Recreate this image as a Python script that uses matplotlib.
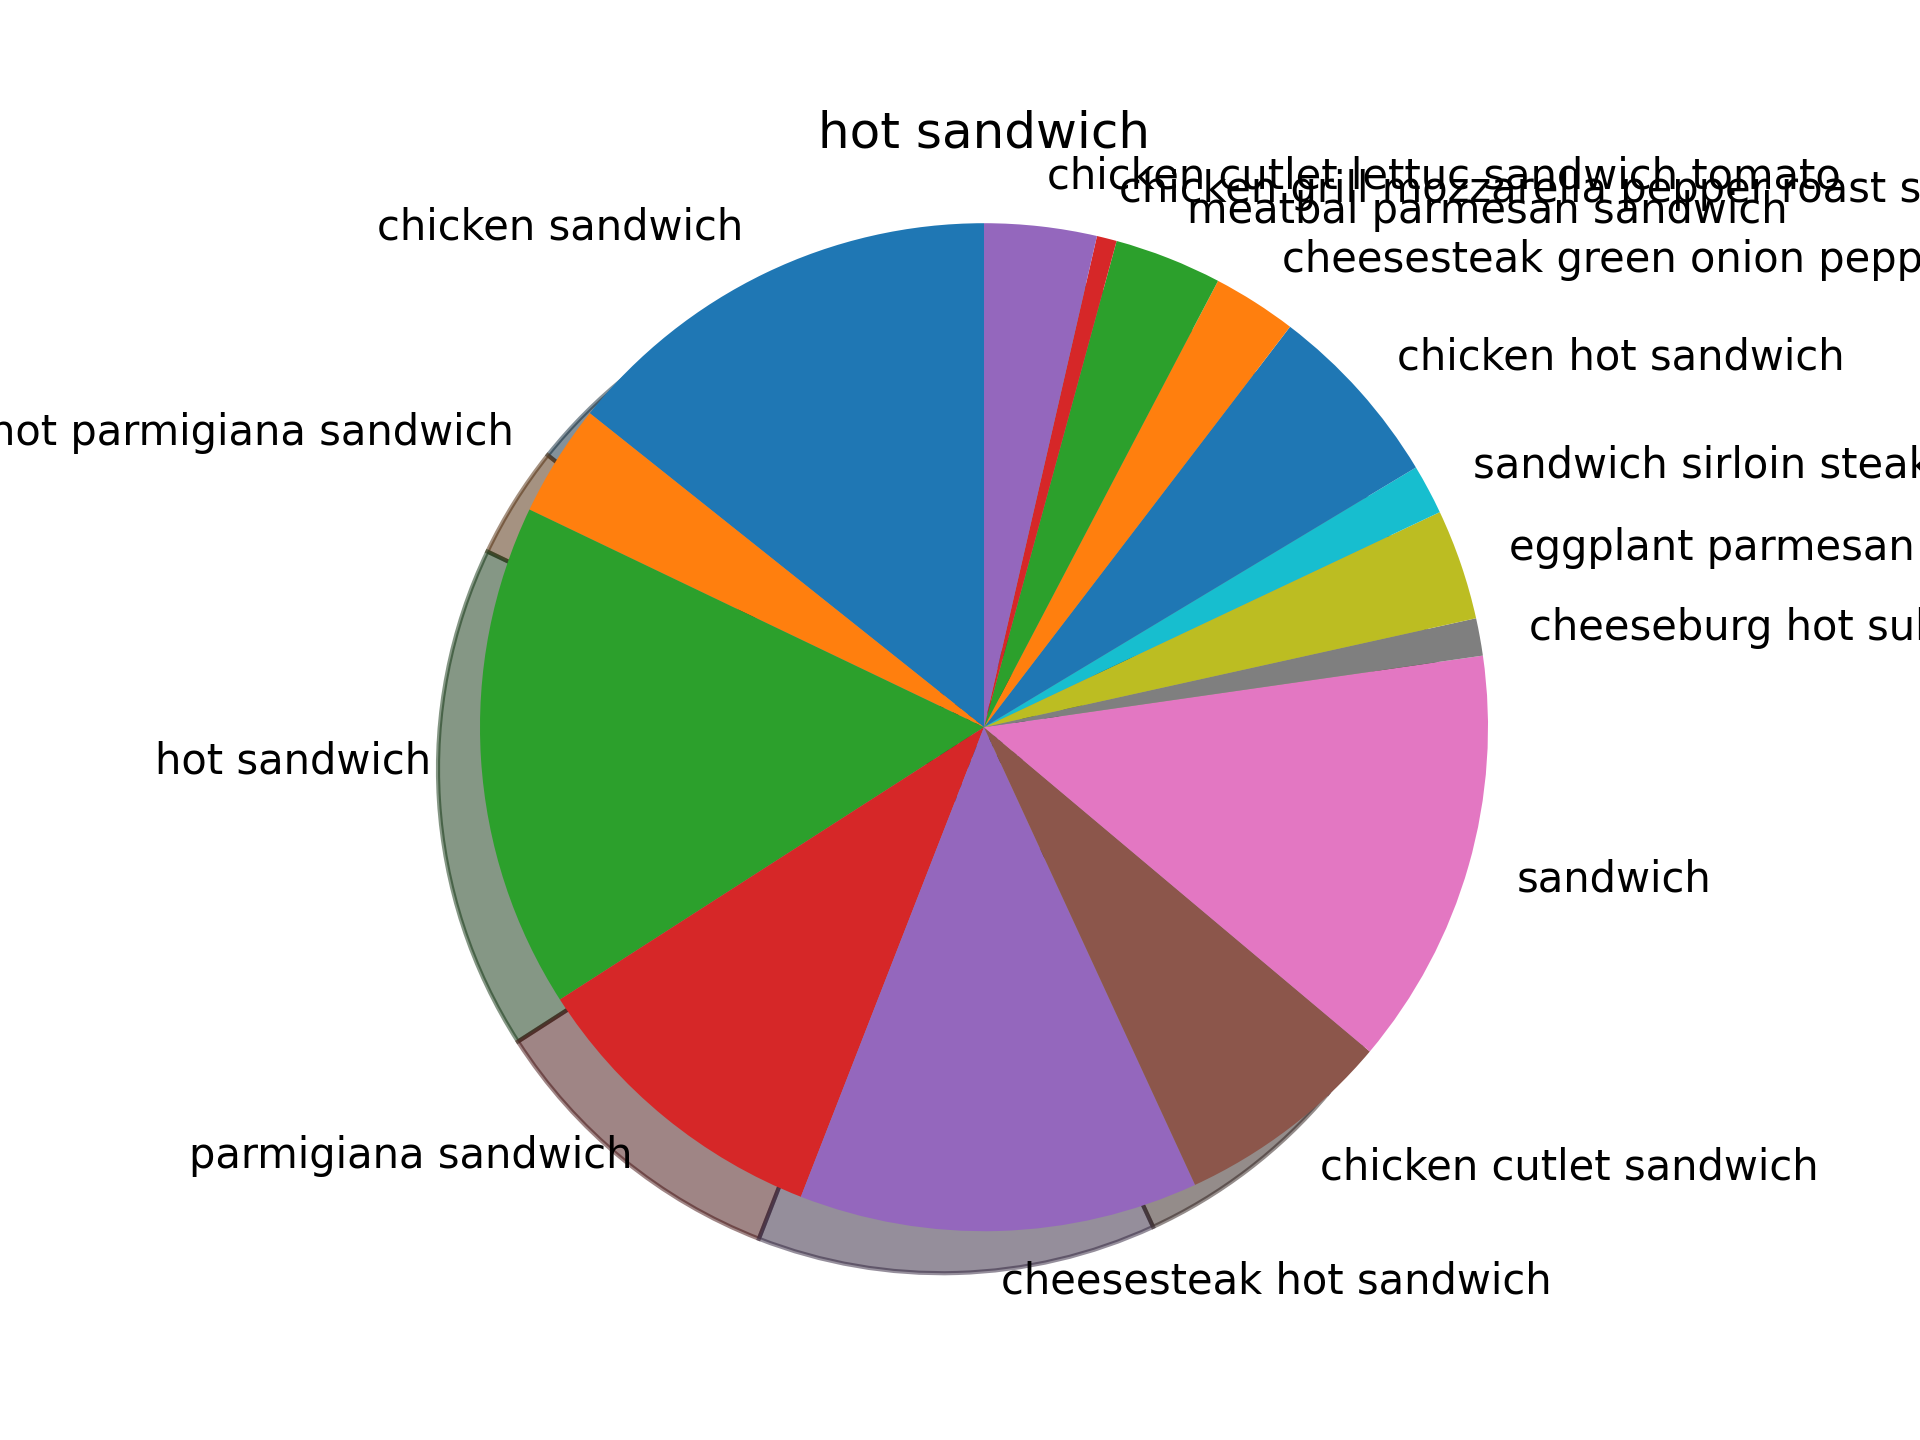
import matplotlib
matplotlib.use("Agg")
import matplotlib.pyplot as plt

# share of each item (in percent)
labels = [
    "chicken sandwich",
    "hot parmigiana sandwich",
    "hot sandwich",
    "parmigiana sandwich",
    "cheesesteak hot sandwich",
    "chicken cutlet sandwich",
    "sandwich",
    "cheeseburg hot sub",
    "eggplant parmesan sandwich",
    "sandwich sirloin steak",
    "chicken hot sandwich",
    "cheesesteak green onion pepper sandwich",
    "meatbal parmesan sandwich",
    "chicken grill mozzarella pepper roast sandwich",
    "chicken cutlet lettuc sandwich tomato",
]
shares = [14.3, 3.6, 16.2, 10.0, 12.8, 7.0, 13.4, 1.2,
          3.55, 1.6, 6.0, 2.7, 3.45, 0.64, 3.6]

fig = plt.figure(figsize=(6.4, 4.8), dpi=300)
plt.pie(shares, labels=labels, shadow=True, startangle=90)
plt.axis('equal')
plt.title("hot sandwich")

fig.savefig("out.png", dpi=300)
